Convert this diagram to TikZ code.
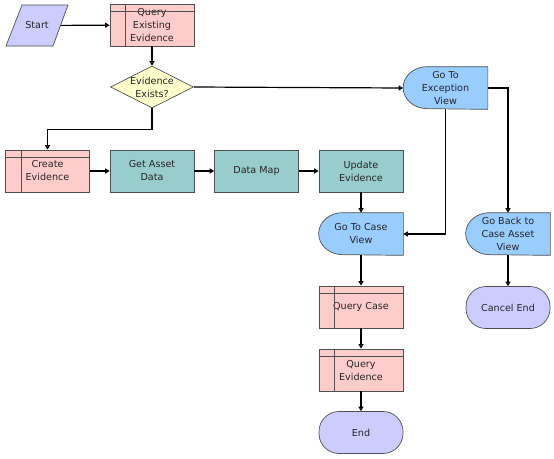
\documentclass[tikz,border=0pt]{standalone}
\usepackage{fontspec}
\newfontfamily\flowfont{DejaVu Sans}
\usepackage{tikz}
\usetikzlibrary{shapes.geometric,arrows.meta,backgrounds}
\usepackage{xcolor}

\definecolor{querypink}{HTML}{FFCCCC}
\definecolor{decyellow}{HTML}{FFFFCC}
\definecolor{steptcol}{HTML}{99CCCC}
\definecolor{viewblue}{HTML}{99CCFF}
\definecolor{termlav}{HTML}{CCCCFF}
\definecolor{edgegray}{HTML}{505050}

\tikzset{
  box/.style={draw=edgegray, line width=0.7pt, minimum width=84pt, minimum height=42pt,
    inner sep=1pt, align=center, font=\flowfont\fontsize{9.6}{13}\selectfont, text=black!85},
  querybox/.style={box, fill=querypink},
  stepbox/.style={box, fill=steptcol},
  viewbox/.style={box, draw=none},
  termbox/.style={box, fill=termlav, rounded corners=20pt},
  decision/.style={box, diamond, aspect=2, fill=decyellow, minimum width=83pt, minimum height=42pt, inner sep=-6pt},
  startbox/.style={box, draw=none, minimum width=47pt, minimum height=41pt},
  flow/.style={line width=1.2pt, -{Triangle[open,length=4.5pt,width=5pt]}},
}

\begin{document}
\begin{tikzpicture}[x=1pt,y=-1pt]
\useasboundingbox (0,0) rectangle (554,458);

% top row
\node[startbox] (start) at (37,25.5) {Start};
\node[querybox] (qexist) at (152,25) {Query\\Existing\\Evidence};
\node[decision] (exists) at (152,87) {Evidence\\Exists?};
\node[viewbox] (excview) at (445.5,88) {Go To\\Exception\\View};

% middle row
\node[querybox] (create) at (47.5,171) {Create\\Evidence};
\node[stepbox] (getasset) at (152,171) {Get Asset\\Data};
\node[stepbox] (datamap) at (256.5,171) {Data Map};
\node[stepbox] (update) at (361,171) {Update\\Evidence};

% lower part
\node[viewbox] (caseview) at (361,234) {Go To Case\\View};
\node[viewbox] (backview) at (508,234) {Go Back to\\Case Asset\\View};
\node[querybox] (qcase) at (361,307) {Query Case};
\node[querybox] (qevid) at (361,370) {Query\\Evidence};
\node[termbox] (end) at (361,432.5) {End};
\node[termbox] (cancel) at (508,307.5) {Cancel End};

% shapes behind the text
\begin{scope}[on background layer]
\filldraw[fill=termlav, draw=edgegray, line width=0.7pt, shift={(start)}]
  (-31,20.5) -- (16,20.5) -- (31,-20.5) -- (-15,-20.5) -- cycle;
\foreach \n in {excview,caseview,backview} {
  \filldraw[fill=viewblue, draw=edgegray, line width=0.7pt]
    (\n.north east) -- ([xshift=24pt]\n.north west)
    arc[start angle=90, end angle=270, x radius=24pt, y radius=21pt]
    -- (\n.south east) -- cycle;
}
\end{scope}

% header and side lines of the query boxes
\foreach \n in {qexist,create,qcase,qevid} {
  \draw[draw=edgegray, line width=0.7pt] ([yshift=-8pt]\n.north west) -- ([yshift=-8pt]\n.north east);
  \draw[draw=edgegray, line width=0.7pt] ([xshift=16pt]\n.north west) -- ([xshift=16pt]\n.south west);
}

% connectors
\draw[flow] (start) -- (qexist);
\draw[flow] (qexist) -- (exists);
\draw[flow] (exists.south) -- ++(0,21) -| (create.north);
\draw[flow] (exists.east) -- (excview.west);
\draw[flow] (create) -- (getasset);
\draw[flow] (getasset) -- (datamap);
\draw[flow] (datamap) -- (update);
\draw[flow] (update) -- (caseview);
\draw[flow] (excview.south) |- (caseview.east);
\draw[flow] (excview.east) -| (backview.north);
\draw[flow] (caseview) -- (qcase);
\draw[flow] (qcase) -- (qevid);
\draw[flow] (qevid) -- (end);
\draw[flow] (backview) -- (cancel);
\end{tikzpicture}
\end{document}
